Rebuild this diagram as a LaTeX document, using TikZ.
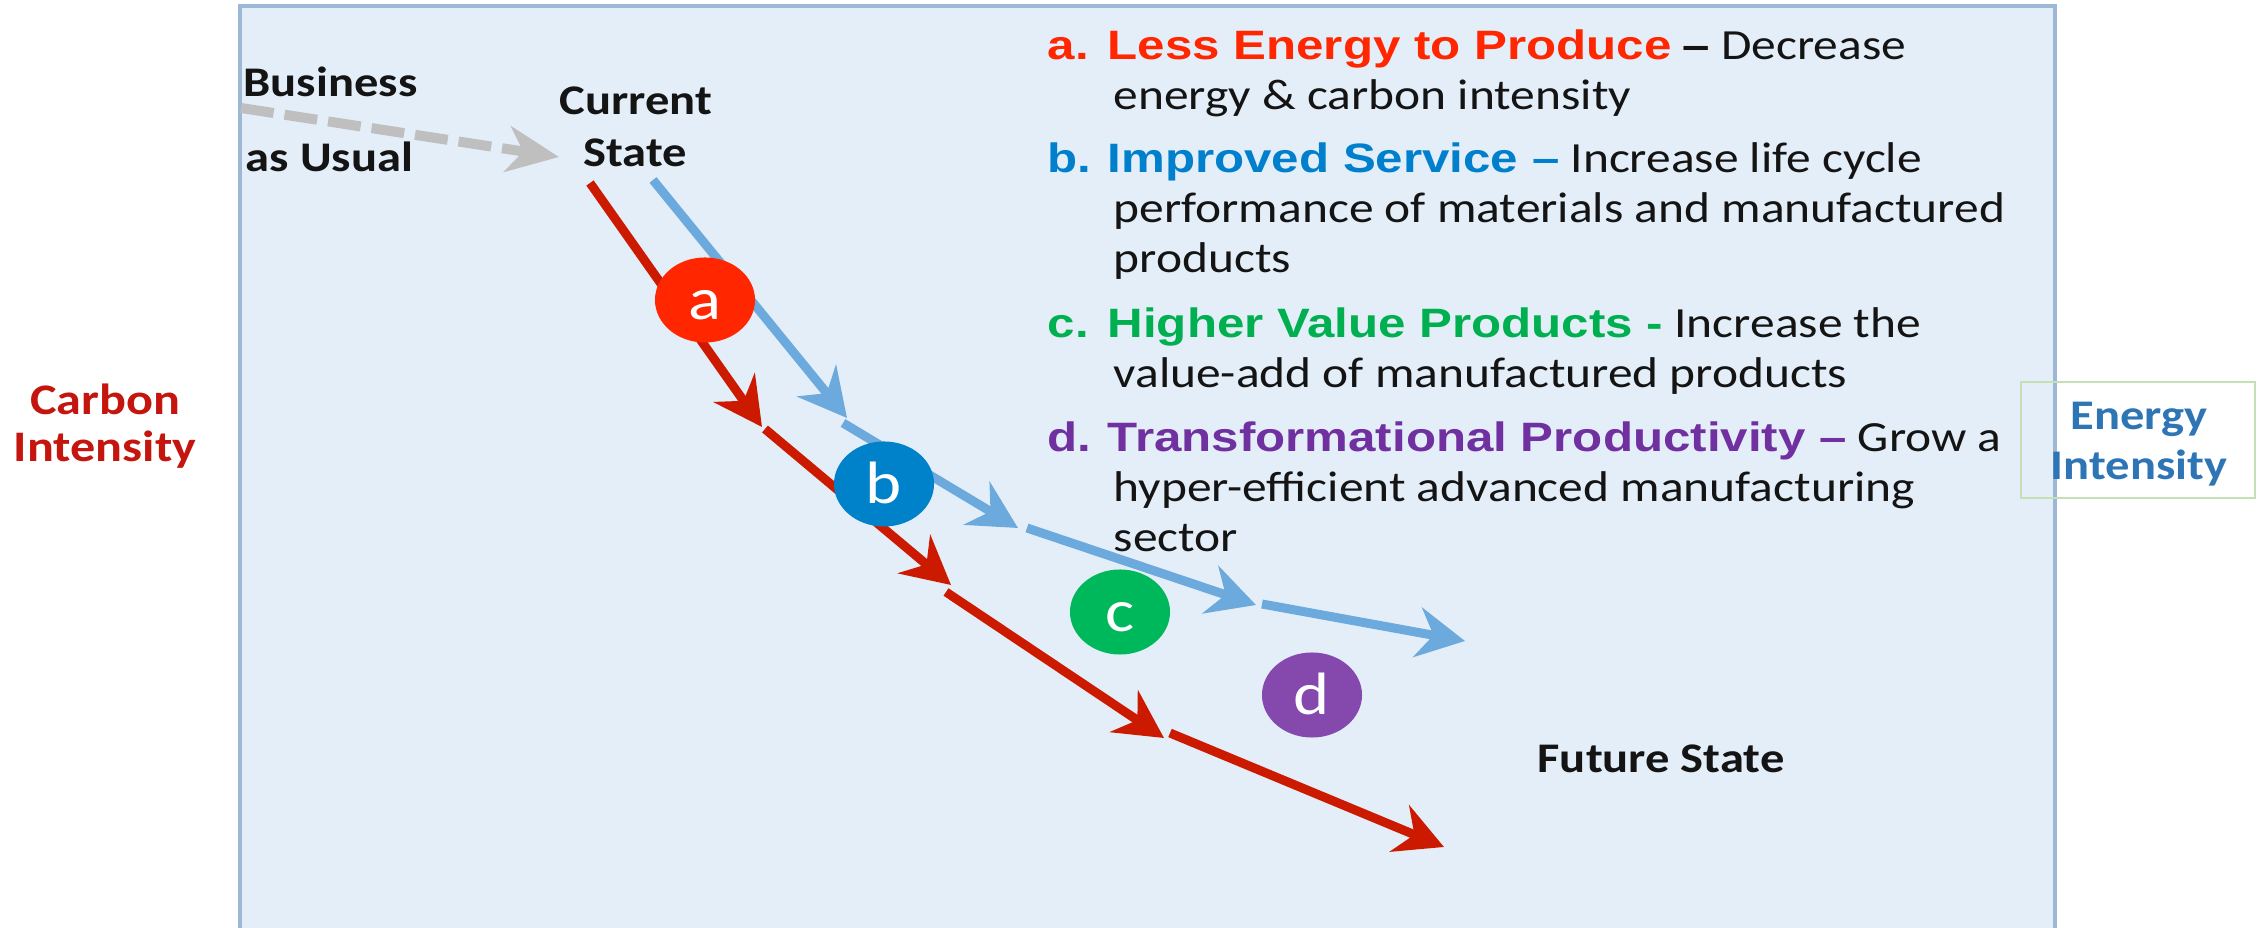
\documentclass[tikz,border=0pt]{standalone}
\usepackage{fontspec}
\setmainfont{Carlito}[FakeStretch=1.15]
\newfontfamily\headfont{Liberation Sans}[FakeStretch=1.2]
\usetikzlibrary{arrows.meta, shapes.geometric}
\definecolor{panel}{RGB}{228, 238, 248}
\definecolor{panelline}{RGB}{156, 184, 214}
\definecolor{ink}{RGB}{20, 20, 20}
\definecolor{bau}{RGB}{191, 191, 191}
\definecolor{pathred}{RGB}{204, 26, 0}
\definecolor{pathblue}{RGB}{108, 169, 220}
\definecolor{cola}{RGB}{255, 38, 0}
\definecolor{colb}{RGB}{0, 128, 204}
\definecolor{colc}{RGB}{0, 176, 80}
\definecolor{cold}{RGB}{112, 48, 160}
\definecolor{dota}{RGB}{255, 38, 0}
\definecolor{dotb}{RGB}{0, 130, 202}
\definecolor{dotc}{RGB}{0, 184, 92}
\definecolor{dotd}{RGB}{133, 73, 173}
\definecolor{carbon}{RGB}{196, 22, 14}
\definecolor{energy}{RGB}{46, 117, 182}
\definecolor{boxline}{RGB}{197, 224, 180}

\newcommand{\hd}[1]{{\headfont\bfseries\fontsize{11.67}{14}\selectfont #1}}
\newcommand{\itemlbl}[1]{\makebox[0.6cm][l]{#1}}

\begin{document}
\begin{tikzpicture}[x=0.01cm, y=-0.01cm,
    txt/.style={inner sep=0pt, anchor=base west, text=ink,
      font=\fontsize{12.23}{14.2}\selectfont},
    lbl/.style={inner sep=0pt, anchor=base, text=ink,
      font=\bfseries\fontsize{12}{14}\selectfont},
    bubble/.style={ellipse, minimum width=1cm, minimum height=0.85cm,
      inner sep=0pt, text=white, text height=0.38cm, text depth=0cm,
      font=\fontsize{17}{20}\selectfont},
    redpath/.style={pathred, line width=0.09cm,
      -{Stealth[length=0.48cm, width=0.5cm, inset=0.16cm]}},
    bluepath/.style={pathblue, line width=0.09cm,
      -{Stealth[length=0.48cm, width=0.5cm, inset=0.16cm]}}]
  \useasboundingbox (0, 0) rectangle (2262, 928);

  % panel, open at the bottom
  \fill[panel] (240, 6) rectangle (2055, 928);
  \draw[panelline, line width=0.035cm] (240, 928) -- (240, 6) -- (2055, 6) -- (2055, 928);

  % business as usual
  \coordinate (bau0) at (241, 108);
  \coordinate (now) at (559, 157);
  \draw[bau, line width=0.1cm, dash pattern=on 0.33cm off 0.11cm,
    -{Stealth[length=0.52cm, width=0.46cm, inset=0.16cm]}] (bau0) -- (now);
  \node[lbl, anchor=base west] (bus1) at (243, 97) {Business};
  \node[lbl, anchor=base west] (bus2) at (245, 172) {as Usual};
  \node[lbl] (cur1) at (636, 115) {Current};
  \node[lbl] (cur2) at (635, 167) {State};

  % carbon path and energy path, one segment per step
  \coordinate (rs1) at (590, 183);  \coordinate (re1) at (762, 427);
  \coordinate (rs2) at (765, 429);  \coordinate (re2) at (951, 585);
  \coordinate (rs3) at (946, 592);  \coordinate (re3) at (1164, 738);
  \coordinate (rs4) at (1170, 733); \coordinate (re4) at (1444, 847);
  \coordinate (bs1) at (653, 180);  \coordinate (be1) at (847, 418);
  \coordinate (bs2) at (843, 423);  \coordinate (be2) at (1018, 528);
  \coordinate (bs3) at (1027, 528); \coordinate (be3) at (1256, 605);
  \coordinate (bs4) at (1262, 604); \coordinate (be4) at (1465, 641);
  \foreach \i in {1, ..., 4} {
    \draw[bluepath] (bs\i) -- (be\i);
    \draw[redpath] (rs\i) -- (re\i);
  }

  \node[bubble, fill=dota] (ca) at (705, 300) {a};
  \node[bubble, fill=dotb] (cb) at (884, 484) {b};
  \node[bubble, fill=dotc] (cc) at (1120, 612) {c};
  \node[bubble, fill=dotd] (cd) at (1312, 695) {d};

  \node[lbl, anchor=base west] (fut) at (1537, 773) {Future State};

  % legend
  \node[txt] (ia1) at (1047, 60) {{\color{cola}\hd{\itemlbl{a.}Less Energy to Produce}} \hd{–} Decrease};
  \node[txt] (ia2) at (1113, 110) {energy \& carbon intensity};
  \node[txt] (ib1) at (1047, 173) {{\color{colb}\hd{\itemlbl{b.}Improved Service –}} Increase life cycle};
  \node[txt] (ib2) at (1113, 223) {performance of materials and manufactured};
  \node[txt] (ib3) at (1113, 273) {products};
  \node[txt] (ic1) at (1047, 338) {{\color{colc}\hd{\itemlbl{c.}Higher Value Products -}} Increase the};
  \node[txt] (ic2) at (1113, 388) {value-add of manufactured products};
  \node[txt] (id1) at (1047, 452) {{\color{cold}\hd{\itemlbl{d.}Transformational Productivity –}} Grow a};
  \node[txt] (id2) at (1113, 502) {hyper-efficient advanced manufacturing};
  \node[txt] (id3) at (1113, 552) {sector};

  % axis captions
  \node[lbl, text=carbon, font=\bfseries\fontsize{12.4}{14}\selectfont] (ci1) at (105, 415) {Carbon};
  \node[lbl, text=carbon, font=\bfseries\fontsize{12.4}{14}\selectfont] (ci2) at (105, 462) {Intensity};
  \node[draw=boxline, line width=0.02cm, minimum width=2.33cm, minimum height=1.16cm,
    inner sep=0pt] (ebox) at (2138, 440) {};
  \node[lbl, text=energy] (ei1) at (2139, 430) {Energy};
  \node[lbl, text=energy] (ei2) at (2139, 480) {Intensity};
\end{tikzpicture}
\end{document}
